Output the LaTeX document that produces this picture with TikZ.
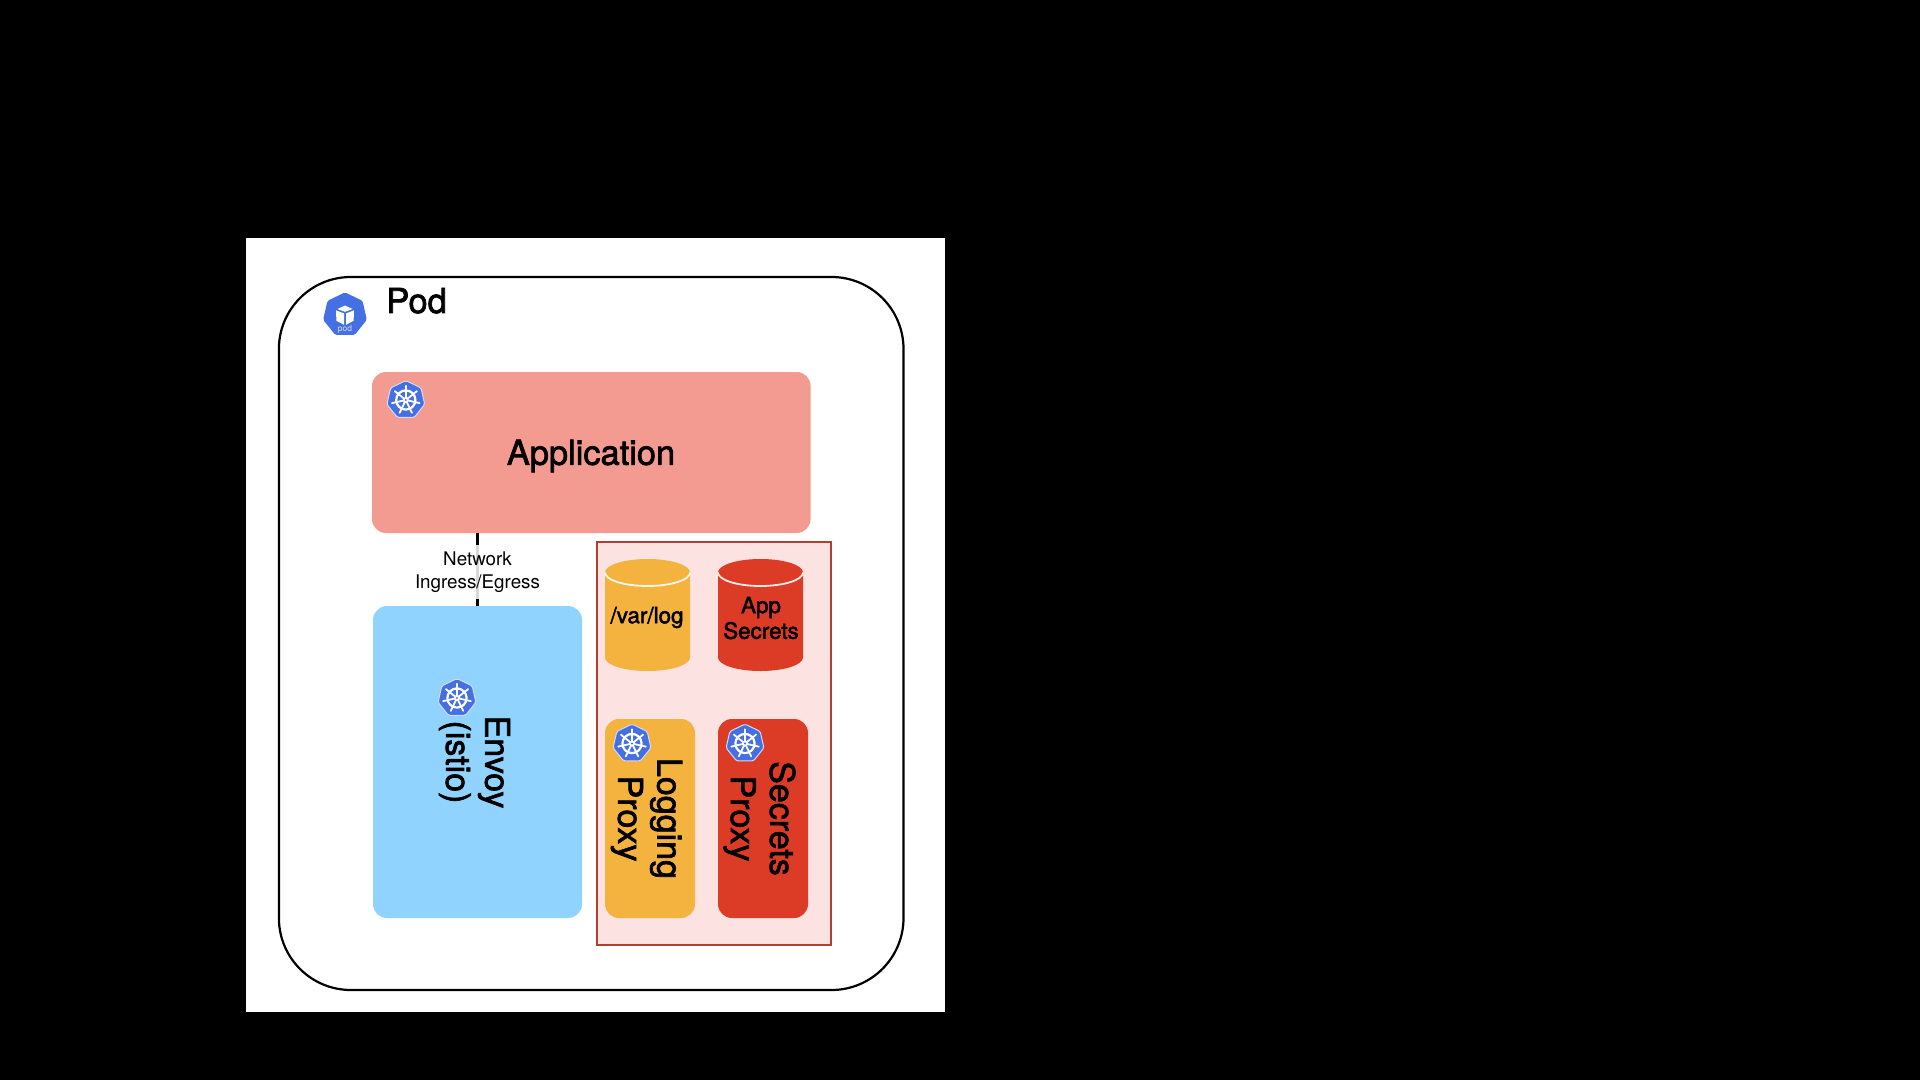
\documentclass[tikz,border=0pt]{standalone}
\usepackage{fontspec}
\setmainfont{TeX Gyre Heros}
\newfontfamily\medf[FakeBold=2.0]{TeX Gyre Heros}
\definecolor{kblue}{HTML}{4570E3}
\definecolor{cOrange}{HTML}{F4B23F}
\definecolor{cRed}{HTML}{DC3B25}
\definecolor{cSky}{HTML}{8FD3FE}
\definecolor{cSalmon}{HTML}{F39B90}
\definecolor{cPink}{HTML}{FCE3E1}
\definecolor{cEdge}{HTML}{B0402F}
\tikzset{
  x=0.5pt,y=-0.5pt,
  panel/.style={inner sep=0pt,outer sep=0pt,rounded corners=7pt},
  biglabel/.style={font=\medf\fontsize{17.2}{20}\selectfont,text=black,align=center,inner sep=0pt},
  sidelabel/.style={font=\medf\fontsize{17}{19.6}\selectfont,text=black,align=center,inner sep=0pt,rotate=-90},
  smalllabel/.style={font=\medf\fontsize{11.2}{12.8}\selectfont,text=black,align=center,inner sep=0pt},
  netlabel/.style={font=\fontsize{9.4}{11.5}\selectfont,text=black,align=center,inner sep=0pt,
    fill=white,fill opacity=0.85,text opacity=1,minimum height=27pt},
  hept/.style={fill=kblue,rounded corners=0.8pt},
  wheelicon/.pic={
    \path[hept,draw=white!75!kblue,line width=0.5pt]
      (-90:19.4) -- (-38.57:19.4) -- (12.86:19.4) -- (64.29:19.4) -- (115.71:19.4) -- (167.14:19.4) -- (218.57:19.4) -- cycle;
    \draw[white,line width=1.1pt] (0,0) circle[radius=9.6];
    \foreach \a in {-90,-38.57,12.86,64.29,115.71,167.14,218.57}{
      \draw[white,line width=0.9pt,line cap=round] (\a:2) -- (\a:14.2);
    }
    \fill[white] (0,0) circle[radius=3];
    \fill[kblue] (0,0) circle[radius=1.1];
  },
  podicon/.pic={
    \path[hept]
      (-90:22.4) -- (-38.57:22.4) -- (12.86:22.4) -- (64.29:22.4) -- (115.71:22.4) -- (167.14:22.4) -- (218.57:22.4) -- cycle;
    \fill[white] (0,-9.2) -- (-7.6,-5.8) -- (0,-3) -- (7.6,-5.8) -- cycle;
    \fill[white] (-9,-4.4) -- (-1,-1.4) -- (-1,10) -- (-8.6,6) -- cycle;
    \fill[white] (9,-4.4) -- (1,-1.4) -- (1,10) -- (8.6,6) -- cycle;
    \node[inner sep=0pt,text=white!75!kblue,font=\fontsize{4.2}{5}\selectfont] (podtext) at (0,14.6) {pod};
  },
}
\begin{document}
\begin{tikzpicture}
\useasboundingbox (0,0) rectangle (1920,1080);
\fill[black] (0,0) rectangle (1920,1080);
% white sheet
\fill[white] (246,238.5) rectangle (945,1011.5);
% pod outline
\node[panel,draw=black,line width=1.1pt,rounded corners=36pt,minimum width=312.3pt,minimum height=356.5pt] (pod) at (591.2,633.5) {};
\node[font=\medf\fontsize{17.2}{20}\selectfont,inner sep=0pt,anchor=base west] (podname) at (386,313) {Pod};
\pic at (345,314.8) {podicon};
% application
\node[panel,fill=cSalmon,minimum width=219.3pt,minimum height=80.5pt] (app) at (591.3,452.5) {};
\node[biglabel] (applabel) at (591,456) {Application};
\pic at (405.8,400) {wheelicon};
% envoy
\node[panel,fill=cSky,minimum width=104.5pt,minimum height=156pt] (env) at (477.5,762) {};
\node[sidelabel] (envlabel) at (474.5,762) {Envoy\\(istio)};
\pic at (457,698) {wheelicon};
% network link
\draw[black,line width=1.1pt] (env.north |- app.south) -- (env.north);
\node[netlabel] (netlabel) at (477.5,572) {Network\\Ingress/Egress};
% sidecar group
\node[inner sep=0pt,outer sep=0pt,fill=cPink,draw=cEdge,line width=1.2pt,minimum width=117pt,minimum height=201.5pt] (group) at (714,743.5) {};
% cylinders
\fill[cOrange] (605,572.5) arc[x radius=42.5,y radius=13.5,start angle=180,end angle=360] -- (690,657.5) arc[x radius=42.5,y radius=13.5,start angle=0,end angle=180] -- cycle;
\draw[white!90!cOrange,line width=0.9pt] (605,572.5) arc[x radius=42.5,y radius=13.5,start angle=180,end angle=0];
\node[smalllabel] (varlog) at (647,617.5) {/var/log};
\fill[cRed] (718,572.5) arc[x radius=42.5,y radius=13.5,start angle=180,end angle=360] -- (803,657.5) arc[x radius=42.5,y radius=13.5,start angle=0,end angle=180] -- cycle;
\draw[white!90!cRed,line width=0.9pt] (718,572.5) arc[x radius=42.5,y radius=13.5,start angle=180,end angle=0];
\node[smalllabel] (appsecrets) at (761,618) {App\\Secrets};
% proxies
\node[panel,fill=cOrange,minimum width=45pt,minimum height=99.5pt] (logging) at (650,818.5) {};
\node[sidelabel] (logginglabel) at (646.5,818.5) {Logging\\Proxy};
\pic at (632,743.5) {wheelicon};
\node[panel,fill=cRed,minimum width=45pt,minimum height=99.5pt] (secrets) at (763,818.5) {};
\node[sidelabel] (secretslabel) at (759.5,818.5) {Secrets\\Proxy};
\pic at (745,743.5) {wheelicon};
\end{tikzpicture}
\end{document}
